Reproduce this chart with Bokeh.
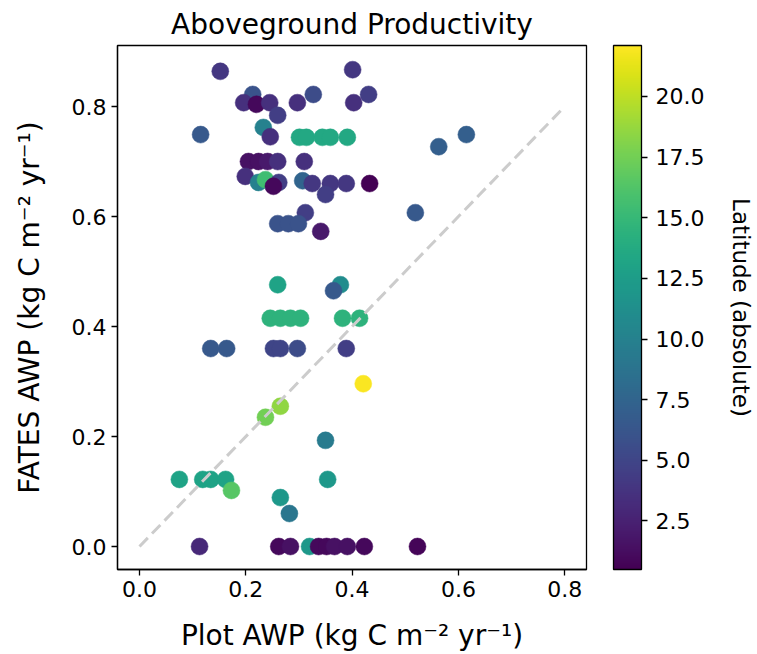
from bokeh.plotting import figure
from bokeh.models import (ColumnDataSource, LinearColorMapper, ColorBar, FixedTicker,
                          NumeralTickFormatter, Title, Range1d)
from bokeh.palettes import Viridis256
from bokeh.transform import transform
from bokeh.embed import file_html
from bokeh.resources import INLINE

# ---- data ----
plot_awp = [0.152, 0.401, 0.213, 0.196, 0.220, 0.245, 0.260, 0.297, 0.327, 0.431, 0.403,
            0.115, 0.233, 0.246, 0.301, 0.314, 0.344, 0.359, 0.391, 0.563, 0.615,
            0.205, 0.224, 0.241, 0.260, 0.310,
            0.199, 0.224, 0.237, 0.262, 0.252, 0.307, 0.325, 0.359, 0.350, 0.389, 0.433,
            0.312, 0.519, 0.260, 0.280, 0.299, 0.341,
            0.260, 0.378, 0.365,
            0.246, 0.265, 0.284, 0.303, 0.382, 0.414,
            0.134, 0.164, 0.252, 0.265, 0.297, 0.389,
            0.421,
            0.237, 0.265, 0.075, 0.119, 0.134, 0.162, 0.173, 0.265, 0.282, 0.350, 0.354,
            0.113, 0.262, 0.284, 0.320, 0.337, 0.352, 0.367, 0.391, 0.423, 0.523]
fates_awp = [0.864, 0.867, 0.822, 0.807, 0.804, 0.807, 0.784, 0.807, 0.822, 0.822, 0.807,
             0.749, 0.762, 0.745, 0.744, 0.744, 0.744, 0.744, 0.744, 0.727, 0.749,
             0.700, 0.700, 0.700, 0.700, 0.700,
             0.673, 0.662, 0.667, 0.662, 0.655, 0.665, 0.660, 0.660, 0.640, 0.660, 0.660,
             0.607, 0.607, 0.587, 0.587, 0.587, 0.573,
             0.476, 0.476, 0.465,
             0.415, 0.415, 0.415, 0.415, 0.415, 0.415,
             0.360, 0.360, 0.360, 0.360, 0.360, 0.360,
             0.296,
             0.235, 0.255, 0.122, 0.122, 0.122, 0.122, 0.102, 0.089, 0.060, 0.193, 0.122,
             0.0, 0.0, 0.0, 0.0, 0.0, 0.0, 0.0, 0.0, 0.0, 0.0]
latitude = [4.0, 4.0, 6.0, 3.5, 1.0, 3.5, 4.5, 3.5, 5.5, 4.5, 3.5,
            6.5, 10.0, 3.5, 13.5, 13.5, 13.5, 13.5, 13.5, 7.0, 7.0,
            1.5, 1.5, 2.0, 3.5, 3.5,
            3.5, 10.0, 15.5, 4.5, 1.0, 7.5, 4.0, 4.0, 4.5, 4.0, 0.5,
            4.5, 6.5, 6.0, 6.0, 6.0, 2.0,
            13.0, 11.0, 6.5,
            14.5, 14.5, 14.5, 14.5, 14.5, 14.5,
            6.5, 6.5, 5.0, 5.0, 5.5, 4.5,
            22.0,
            17.5, 18.5, 13.0, 13.0, 13.0, 13.0, 16.5, 12.0, 9.0, 9.5, 12.0,
            3.0, 1.0, 1.5, 12.0, 1.0, 1.0, 1.5, 1.5, 1.0, 0.8]
one_to_one = [0.0, 0.8]
axis_ticks = [0.0, 0.2, 0.4, 0.6, 0.8]
cbar_ticks = [2.5, 5.0, 7.5, 10.0, 12.5, 15.0, 17.5, 20.0]
lat_low, lat_high = 0.5, 22.1

FONT = "DejaVu Sans"

src = ColumnDataSource(dict(x=plot_awp, y=fates_awp, lat=latitude))
mapper = LinearColorMapper(palette=Viridis256, low=lat_low, high=lat_high)

p = figure(frame_width=469, frame_height=524,
           x_range=Range1d(-0.0414, 0.841), y_range=Range1d(-0.0418, 0.911),
           output_backend="svg", toolbar_location=None,
           min_border_left=117, min_border_right=10, min_border_top=45, min_border_bottom=84)

p.scatter("x", "y", source=src, size=17, fill_color=transform("lat", mapper),
          line_color=transform("lat", mapper), line_width=0.5)
p.line(one_to_one, one_to_one, line_color="#cccccc", line_width=3, line_dash="12 6")

p.title.text = "Aboveground Productivity"
p.title.align = "center"
p.title.text_font = FONT
p.title.text_font_size = "28px"
p.title.text_font_style = "normal"
p.title.text_color = "black"
p.title.standoff = 9

p.xgrid.visible = False
p.ygrid.visible = False
p.outline_line_color = "black"
p.outline_line_width = 1.3
p.outline_line_alpha = 1.0

for ax in (p.xaxis[0], p.yaxis[0]):
    ax.ticker = FixedTicker(ticks=axis_ticks)
    ax.formatter = NumeralTickFormatter(format="0.0")
    ax.major_label_text_font = FONT
    ax.major_label_text_font_size = "22px"
    ax.major_label_text_color = "black"
    ax.axis_label_text_font = FONT
    ax.axis_label_text_font_size = "28px"
    ax.axis_label_text_font_style = "normal"
    ax.axis_label_text_color = "black"
    ax.axis_line_color = "black"
    ax.axis_line_width = 1.3
    ax.major_tick_line_color = "black"
    ax.major_tick_line_width = 1.3
    ax.major_tick_out = 6
    ax.major_tick_in = 0
    ax.minor_tick_line_color = None

p.xaxis.axis_label_standoff = 19
p.yaxis.axis_label_standoff = 23
p.xaxis.axis_label = "Plot AWP (kg C m\u207b\u00b2 yr\u207b\u00b9)"
p.yaxis.axis_label = "FATES AWP (kg C m\u207b\u00b2 yr\u207b\u00b9)"

cb = ColorBar(color_mapper=mapper, width=28, height=524, padding=0, margin=0,
              location=(27, 0),
              ticker=FixedTicker(ticks=cbar_ticks), formatter=NumeralTickFormatter(format="0.0"),
              major_label_text_font=FONT, major_label_text_font_size="22px",
              major_label_text_color="black",
              major_tick_in=0, major_tick_out=6, major_tick_line_color="black",
              major_tick_line_width=1.3, minor_tick_line_color=None,
              bar_line_color="black", bar_line_width=1.3,
              border_line_color=None, background_fill_alpha=0, label_standoff=8)
p.add_layout(cb, "right")
p.add_layout(Title(text="Latitude (absolute)", align="center", text_font=FONT,
                   text_font_size="23px", text_font_style="normal", text_color="black",
                   standoff=40), "right")

open("out.html", "w").write(file_html(p, INLINE))
